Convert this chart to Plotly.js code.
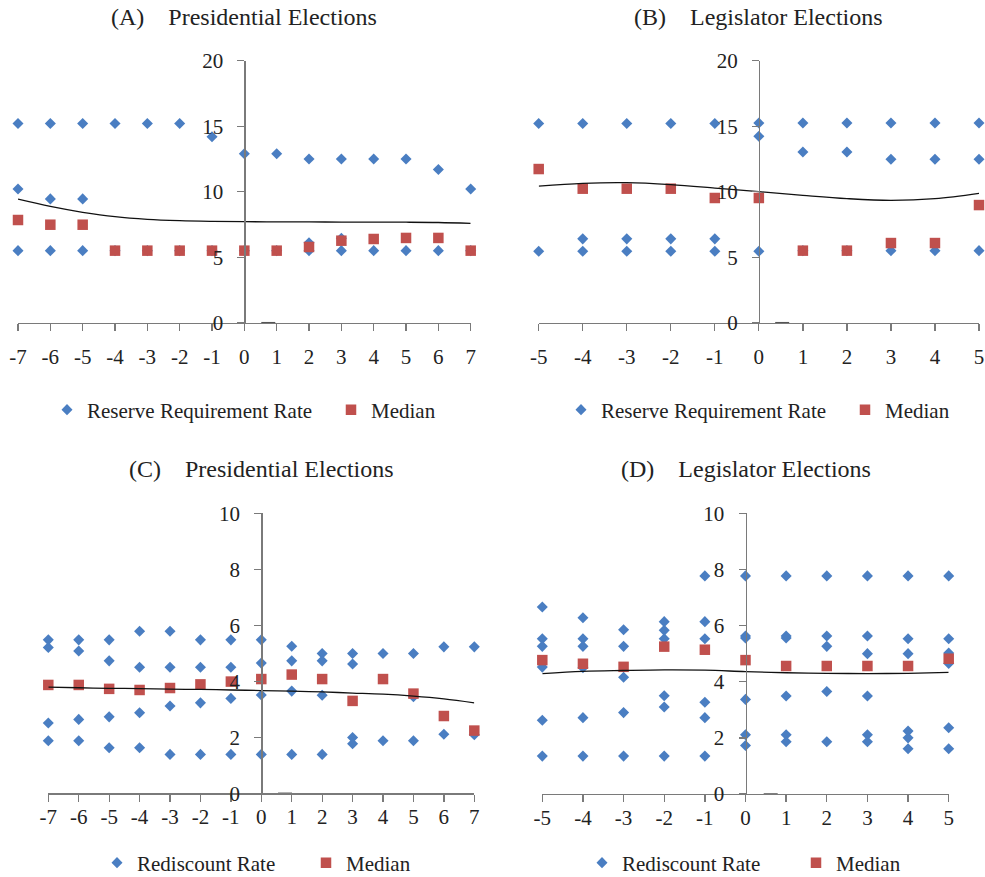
<!DOCTYPE html>
<html>
<head>
<meta charset="utf-8">
<script src="https://cdn.plot.ly/plotly-3.0.1.min.js"></script>
<style>html,body{margin:0;padding:0;background:#fff;} #chart{width:985px;height:877px;}</style>
</head>
<body>
<div id="chart"></div>
<script>
// ---------- DATA ----------
const xA = [-7,-6,-5,-4,-3,-2,-1,0,1,2,3,4,5,6,7];
const rrA = [[15.2,10.2,5.5],[15.2,9.45,5.5],[15.2,9.45,5.5],[15.2,5.5],[15.2,5.5],[15.2,5.5],[14.2,5.5],
  [12.9,5.5],[12.9,5.5],[12.5,6.1,5.5],[12.5,6.45,5.5],[12.5,5.5],[12.5,5.5],[11.7,5.5],[10.2,5.5]];
const medA = [7.84,7.48,7.48,5.5,5.5,5.5,5.5,5.5,5.5,5.78,6.26,6.39,6.47,6.47,5.5];
const trendA = [9.43,8.88,8.43,8.09,7.89,7.79,7.74,7.71,7.70,7.69,7.68,7.67,7.67,7.65,7.58];

const xB = [-5,-4,-3,-2,-1,0,1,2,3,4,5];
const rrB = [[15.2,5.45],[15.2,6.4,5.45],[15.2,6.4,5.45],[15.2,6.4,5.45],[15.2,6.4,5.45],[15.24,14.23,5.45],
  [15.24,13.03,5.5],[15.24,13.03,5.5],[15.24,12.47,5.5],[15.24,12.47,5.5],[15.24,12.47,5.5]];
const medB = [11.73,10.23,10.23,10.23,9.52,9.52,5.5,5.5,6.08,6.08,8.98];
const trendB = [10.43,10.64,10.69,10.54,10.28,10.0,9.72,9.47,9.34,9.47,9.88];

const xC = [-7,-6,-5,-4,-3,-2,-1,0,1,2,3,4,5,6,7];
const rdC = [[5.48,5.21,2.51,1.88],[5.48,5.08,2.64,1.88],[5.48,4.73,2.73,1.63],[5.79,4.5,2.88,1.63],
  [5.79,4.5,3.12,1.39],[5.48,4.5,3.23,1.39],[5.48,4.5,3.39,1.39],[5.48,4.65,3.51,1.39],
  [5.25,4.73,3.65,1.39],[4.99,4.73,3.5,1.39],[4.99,4.62,1.99,1.77],[4.99,1.88],[4.99,3.45,1.88],
  [5.23,2.11],[5.23,2.09]];
const medC = [3.87,3.87,3.73,3.69,3.76,3.89,3.99,4.08,4.24,4.08,3.30,4.08,3.56,2.76,2.24];
const trendC = [3.79,3.77,3.75,3.74,3.72,3.71,3.69,3.67,3.65,3.62,3.58,3.54,3.47,3.37,3.23];

const xD = [-5,-4,-3,-2,-1,0,1,2,3,4,5];
const rdD = [[6.66,5.53,5.26,4.52,2.63,1.35],[6.28,5.53,5.26,4.5,2.72,1.35],[5.85,5.26,4.16,2.9,1.35],
  [6.14,5.83,5.53,3.5,3.1,1.35],[7.77,6.14,5.53,3.27,2.72,1.35],[7.77,5.63,5.56,3.37,2.11,1.73],
  [7.77,5.63,5.56,3.49,2.11,1.86],[7.77,5.63,5.26,3.65,1.86],[7.77,5.63,5.0,3.49,2.11,1.86],
  [7.77,5.53,5.0,2.24,2.0,1.61],[7.77,5.53,5.02,4.65,2.36,1.61]];
const medD = [4.77,4.64,4.53,5.25,5.14,4.77,4.56,4.56,4.56,4.56,4.82];
const trendD = [4.29,4.37,4.40,4.42,4.41,4.36,4.32,4.30,4.29,4.30,4.33];

// stray zero-level dash marks near the origin
const dashX = [0.74, 0.53, 0.78, 0.62];
const dashY = [0, 0, 0, 0];

const titles = ['(A)\u00a0\u00a0\u00a0\u00a0Presidential Elections','(B)\u00a0\u00a0\u00a0\u00a0Legislator Elections',
                '(C)\u00a0\u00a0\u00a0\u00a0Presidential Elections','(D)\u00a0\u00a0\u00a0\u00a0Legislator Elections'];
const seriesNames = ['Reserve Requirement Rate','Reserve Requirement Rate','Rediscount Rate','Rediscount Rate'];

// ---------- LAYOUT HELPERS ----------
const W = 985, H = 877;
const FONT = '"Liberation Serif", "Times New Roman", serif';
const BLUE = '#4A7EC2', RED = '#C0504D', AX = '#7a7a7a';
const px = v => v / W, py = v => 1 - v / H;

const panels = [
  {x: xA, pts: rrA, med: medA, trend: trendA, xd: [18, 470.7], yd: [60.7, 322.7], yr: [0,20], dt: 5, tsx: 8, legY: 410, legX: 47, ew: 239, titleY: 17},
  {x: xB, pts: rrB, med: medB, trend: trendB, xd: [538.7, 979], yd: [60.7, 322.7], yr: [0,20], dt: 5, tsx: 8, legY: 410, legX: 561, ew: 239, titleY: 17},
  {x: xC, pts: rdC, med: medC, trend: trendC, xd: [48.3, 474.3], yd: [513.3, 793.3], yr: [0,10], dt: 2, tsx: -3, legY: 863, legX: 97, ew: 164, titleY: 469},
  {x: xD, pts: rdD, med: medD, trend: trendD, xd: [542.3, 948.7], yd: [513.3, 794], yr: [0,10], dt: 2, tsx: -3, legY: 863, legX: 582, ew: 169, titleY: 469}
];

const data = [];
const layout = {
  width: W, height: H, margin: {l:0, r:0, t:0, b:0, autoexpand: false},
  paper_bgcolor: '#fff', plot_bgcolor: 'rgba(0,0,0,0)',
  font: {family: FONT, size: 21, color: '#222'},
  annotations: [], showlegend: true
};

panels.forEach((p, i) => {
  const n = i + 1;
  const xa = n === 1 ? 'x' : 'x' + n, ya = n === 1 ? 'y' : 'y' + n;
  const leg = n === 1 ? 'legend' : 'legend' + n;
  const ptsX = [], ptsY = [];
  p.x.forEach((xv, k) => p.pts[k].forEach(v => { ptsX.push(xv); ptsY.push(v); }));
  data.push({type:'scatter', mode:'markers', x: ptsX, y: ptsY, xaxis: xa, yaxis: ya, legend: leg,
    name: seriesNames[i], cliponaxis: false, legendwidth: p.ew,
    marker: {symbol:'diamond', size: 8.5, color: BLUE}});
  data.push({type:'scatter', mode:'markers', x: p.x, y: p.med, xaxis: xa, yaxis: ya, legend: leg,
    name: 'Median', cliponaxis: false, legendwidth: 70,
    marker: {symbol:'square', size: 10.5, color: RED}});
  data.push({type:'scatter', mode:'lines', x: p.x, y: p.trend, xaxis: xa, yaxis: ya, showlegend: false,
    line: {color:'#111', width: 1.3, shape:'spline'}, hoverinfo:'skip'});
  data.push({type:'scatter', mode:'markers', x: [dashX[i]], y: [dashY[i]], xaxis: xa, yaxis: ya, showlegend: false,
    cliponaxis: false, marker: {symbol:'line-ew', size: 10, line: {color: '#555', width: 1.5}}, hoverinfo:'skip'});

  const xr = [p.x[0], p.x[p.x.length-1]];
  const xdom = [px(p.xd[0]), px(p.xd[1])];
  const ydom = [py(p.yd[1]), py(p.yd[0])];
  layout['xaxis' + (n===1?'':n)] = {
    domain: xdom, range: xr, anchor: ya, showgrid:false, zeroline:false,
    showline:true, linecolor: AX, linewidth: 1.3,
    ticks:'outside', ticklen: 7, tickcolor: AX, tickwidth: 1.3,
    tickvals: p.x, ticktext: p.x.map(String), ticklabelstandoff: p.tsx,
    tickfont: {family: FONT, size: 21, color:'#222'}
  };
  layout['yaxis' + (n===1?'':n)] = {
    domain: ydom, range: p.yr, anchor: 'free', position: (xdom[0]+xdom[1])/2,
    showgrid:false, zeroline:false, showline:true, linecolor: AX, linewidth: 1.3,
    ticks:'outside', ticklen: 7, tickcolor: AX, tickwidth: 1.3, dtick: p.dt, tick0: 0,
    ticklabelstandoff: 10, tickfont: {family: FONT, size: 21, color:'#222'}
  };
  layout[leg] = {
    orientation:'h', x: px(p.legX), y: py(p.legY), xanchor:'left', yanchor:'middle',
    font: {family: FONT, size: 21, color:'#222'}, bgcolor:'rgba(0,0,0,0)',
    entrywidthmode:'pixels', itemsizing:'trace'
  };
  layout.annotations.push({
    text: titles[i], xref: xa, x: 0, yref:'paper', y: py(p.titleY), yanchor:'middle', xanchor:'center',
    showarrow:false, font: {family: FONT, size: 24, color:'#222'}
  });
});

Plotly.newPlot('chart', data, layout, {displayModeBar:false, staticPlot:true});
</script>
</body>
</html>
